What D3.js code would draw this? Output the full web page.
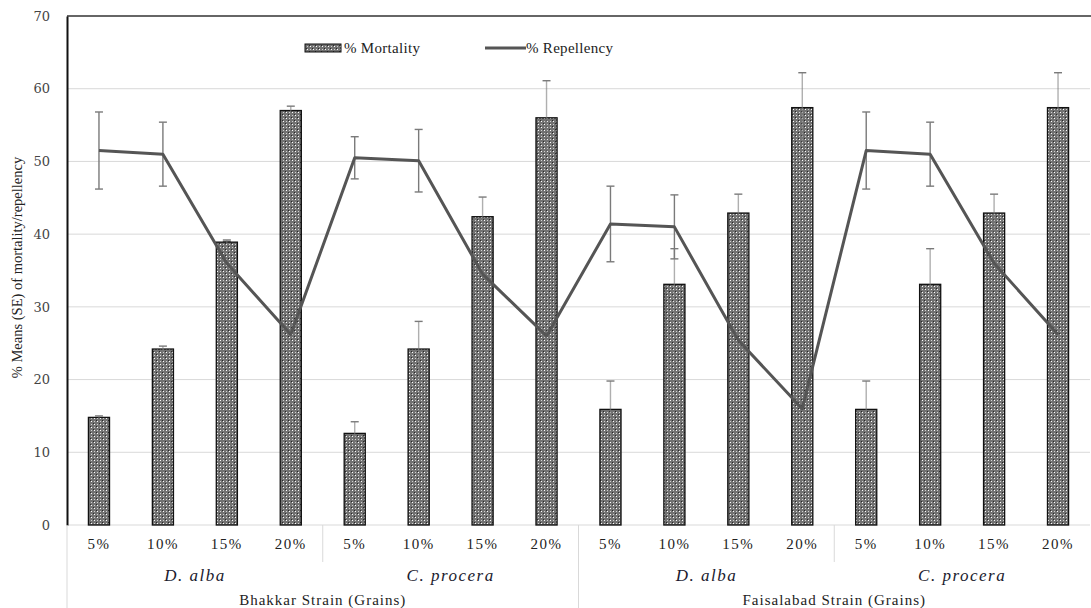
<!DOCTYPE html>
<html>
<head>
<meta charset="utf-8">
<title>Mortality and repellency</title>
<style>
  body { margin: 0; background: #fff; }
  text { font-family: 'Liberation Serif', 'Times New Roman', serif; fill: #222; }
  .ytick text { font-family: 'DejaVu Serif', serif; font-size: 13px; fill: #444; }
</style>
<script src="https://d3js.org/d3.v7.min.js"></script>
</head>
<body>
<div id="chart"></div>
<script>
// ******* Data *******
const concentrations = ["5%", "10%", "15%", "20%", "5%", "10%", "15%", "20%",
                        "5%", "10%", "15%", "20%", "5%", "10%", "15%", "20%"];
const plants = ["D. alba", "C. procera", "D. alba", "C. procera"];
const strains = ["Bhakkar Strain (Grains)", "Faisalabad Strain (Grains)"];

const mortality    = [14.8, 24.2, 38.9, 57.0, 12.6, 24.2, 42.4, 56.0, 15.9, 33.1, 42.9, 57.4, 15.9, 33.1, 42.9, 57.4];
const mortalitySE  = [0.2, 0.4, 0.3, 0.6, 1.6, 3.8, 2.7, 5.1, 3.9, 4.9, 2.6, 4.8, 3.9, 4.9, 2.6, 4.8];
const repellency   = [51.5, 51.0, 36.0, 26.2, 50.5, 50.1, 34.5, 26.0, 41.4, 41.0, 25.4, 16.0, 51.5, 51.0, 36.0, 26.2];
const repellencySE = [5.3, 4.4, 3.0, 3.0, 2.9, 4.3, 3.0, 3.0, 5.2, 4.4, 3.0, 3.0, 5.3, 4.4, 3.0, 3.0];

const yTicks = [0, 10, 20, 30, 40, 50, 60, 70];

// ******* Constants *******
const width = 1091, height = 608,
      margin = {top: 16, right: 1, bottom: 83, left: 67};

const svg = d3.select("#chart").append("svg")
    .attr("width", width)
    .attr("height", height);

// bar fill pattern
const defs = svg.append("defs");
const pat = defs.append("pattern")
    .attr("id", "dots")
    .attr("patternUnits", "userSpaceOnUse")
    .attr("width", 6).attr("height", 6);
pat.append("rect").attr("width", 6).attr("height", 6).attr("fill", "#727272");
[[0,0],[3,3]].forEach(p => pat.append("rect").attr("x", p[0]).attr("y", p[1]).attr("width", 1).attr("height", 1).attr("fill", "#2a2a2a"));
[[1,1],[4,4]].forEach(p => {
  pat.append("rect").attr("x", p[0]).attr("y", p[1]).attr("width", 1).attr("height", 1).attr("fill", "#fff");
});
[[4,1],[1,4]].forEach(p => {
  pat.append("rect").attr("x", p[0]).attr("y", p[1]).attr("width", 1).attr("height", 1).attr("fill", "#d0d0d0");
});

// ******* Scales *******
const idx = d3.range(concentrations.length);
const x = d3.scaleBand()
    .domain(idx)
    .range([margin.left, width - margin.right])
    .paddingInner(0.67)
    .paddingOuter(0.335);
const step = x.step();
const cx = i => x(i) + x.bandwidth() / 2;

const y = d3.scaleLinear()
    .domain([0, 70])
    .range([height - margin.bottom, margin.top]);

// ******* Grid *******
svg.append("g")
  .selectAll("line")
  .data(yTicks)
  .join("line")
    .attr("x1", margin.left)
    .attr("x2", width - margin.right)
    .attr("y1", d => y(d))
    .attr("y2", d => y(d))
    .attr("stroke", "#d9d9d9")
    .attr("stroke-width", 1);

// top border
svg.append("line")
    .attr("x1", margin.left).attr("x2", width)
    .attr("y1", y(70)).attr("y2", y(70))
    .attr("stroke", "#666").attr("stroke-width", 2);

// ******* Y axis *******
const yAxis = svg.append("g")
    .attr("class", "ytick")
    .attr("transform", `translate(${margin.left},0)`)
    .call(d3.axisLeft(y).tickValues(yTicks).tickSize(0).tickPadding(17));
yAxis.select(".domain").attr("stroke", "#111").attr("stroke-width", 2);

svg.append("text")
    .attr("transform", `translate(22, ${(y(0) + y(70)) / 2 - 3}) rotate(-90)`)
    .attr("text-anchor", "middle")
    .style("font-size", "14.5px")
    .text("% Means (SE)  of mortality/repellency");

// ******* Repellency error bars (behind bars) *******
function errorBars(g, vals, se, color) {
  const e = g.selectAll("g").data(idx).join("g");
  e.append("line")
      .attr("x1", cx).attr("x2", cx)
      .attr("y1", i => y(vals[i] - se[i]))
      .attr("y2", i => y(vals[i] + se[i]));
  [-1, 1].forEach(s => e.append("line")
      .attr("x1", i => cx(i) - 4).attr("x2", i => cx(i) + 4)
      .attr("y1", i => y(vals[i] + s * se[i]))
      .attr("y2", i => y(vals[i] + s * se[i])));
  e.selectAll("line").attr("stroke", color).attr("stroke-width", 1.4);
}
errorBars(svg.append("g"), repellency, repellencySE, "#7a7a7a");

// ******* Bars *******
svg.append("g")
  .selectAll("rect")
  .data(idx)
  .join("rect")
    .attr("x", i => x(i))
    .attr("y", i => y(mortality[i]))
    .attr("width", x.bandwidth())
    .attr("height", i => y(0) - y(mortality[i]))
    .attr("fill", "url(#dots)")
    .attr("stroke", "#111")
    .attr("stroke-width", 1.3);

// mortality error bars
const me = svg.append("g").selectAll("g").data(idx).join("g");
me.append("line")
    .attr("x1", cx).attr("x2", cx)
    .attr("y1", i => y(mortality[i] - mortalitySE[i]))
    .attr("y2", i => y(mortality[i] + mortalitySE[i]))
    .attr("stroke-opacity", 0.6);
me.append("line")
    .attr("x1", i => cx(i) - 4).attr("x2", i => cx(i) + 4)
    .attr("y1", i => y(mortality[i] + mortalitySE[i]))
    .attr("y2", i => y(mortality[i] + mortalitySE[i]));
me.selectAll("line").attr("stroke", "#7a7a7a").attr("stroke-width", 1.4);

// ******* Repellency line *******
svg.append("path")
    .datum(idx)
    .attr("fill", "none")
    .attr("stroke", "#555")
    .attr("stroke-width", 3)
    .attr("stroke-linejoin", "round")
    .attr("d", d3.line().x(cx).y(i => y(repellency[i])));

// ******* Category axis *******
const base = y(0);
svg.append("g")
  .selectAll("text")
  .data(idx)
  .join("text")
    .attr("x", cx)
    .attr("y", base + 24)
    .attr("text-anchor", "middle")
    .style("font-size", "15px")
    .style("letter-spacing", "1.5px")
    .text(i => concentrations[i]);

const perPlant = concentrations.length / plants.length;
svg.append("g")
  .selectAll("text")
  .data(plants)
  .join("text")
    .attr("x", (d, k) => margin.left + step * perPlant * (k + 0.5))
    .attr("y", base + 56)
    .attr("text-anchor", "middle")
    .style("font-size", "17px")
    .style("font-style", "italic")
    .style("letter-spacing", "1.5px")
    .style("fill", "#1a1a2e")
    .text(d => d);

const perStrain = concentrations.length / strains.length;
svg.append("g")
  .selectAll("text")
  .data(strains)
  .join("text")
    .attr("x", (d, k) => margin.left + step * perStrain * (k + 0.5))
    .attr("y", base + 80)
    .attr("text-anchor", "middle")
    .style("font-size", "15px")
    .style("letter-spacing", "1px")
    .text(d => d);

// separators
const sep = svg.append("g").attr("stroke", "#d9d9d9").attr("stroke-width", 1);
d3.range(1, plants.length).forEach(k => {
  const xx = margin.left + step * perPlant * k;
  sep.append("line").attr("x1", xx).attr("x2", xx)
     .attr("y1", base).attr("y2", k % 2 === 0 ? height : base + 37);
});
sep.append("line").attr("x1", margin.left).attr("x2", margin.left)
   .attr("y1", base).attr("y2", height);

// ******* Legend *******
const lg = svg.append("g");
lg.append("rect")
    .attr("x", 305).attr("y", 44).attr("width", 36).attr("height", 8)
    .attr("fill", "url(#dots)").attr("stroke", "#111").attr("stroke-width", 1);
lg.append("text").attr("x", 344).attr("y", 53).style("font-size", "15px").style("letter-spacing", "0.3px").text("% Mortality");
lg.append("line")
    .attr("x1", 485).attr("x2", 526).attr("y1", 48).attr("y2", 48)
    .attr("stroke", "#555").attr("stroke-width", 3);
lg.append("text").attr("x", 526).attr("y", 53).style("font-size", "15px").style("letter-spacing", "0.3px").text("% Repellency");
</script>
</body>
</html>
